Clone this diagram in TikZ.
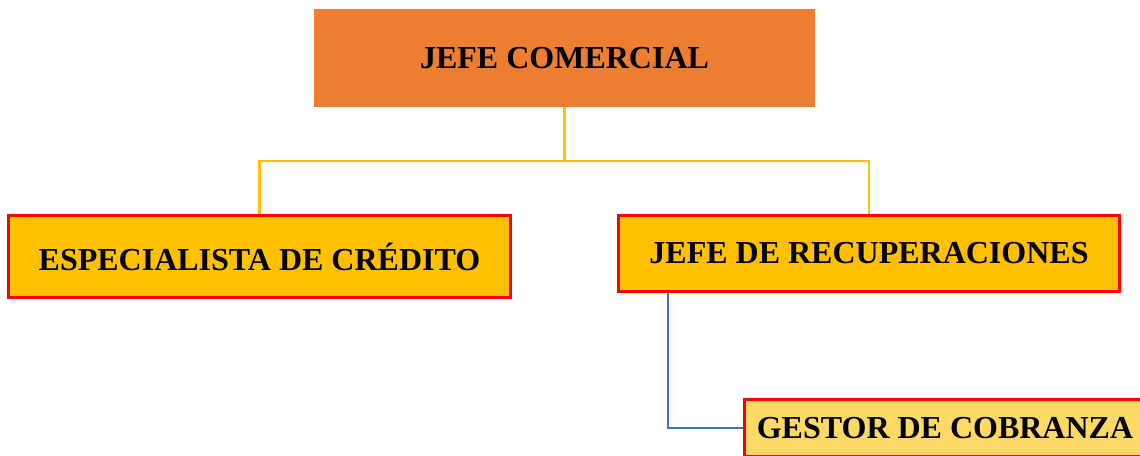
\documentclass[tikz,border=0pt]{standalone}
\usepackage{fontspec}
\setmainfont{Liberation Serif}
\definecolor{orgfill}{HTML}{ED7D31}
\definecolor{yelfill}{HTML}{FFC000}
\definecolor{lightfill}{HTML}{FFD966}
\definecolor{bordred}{HTML}{FF0000}
\definecolor{linkblue}{HTML}{4472C4}
\begin{document}
\begin{tikzpicture}[x=1pt,y=-1pt,
  boxtext/.style={font=\fontsize{32}{36}\selectfont\bfseries, text=black, inner sep=0pt},
  topbox/.style={boxtext, fill=orgfill, draw=none},
  redbox/.style={boxtext, draw=bordred, line width=3pt},
  yellink/.style={draw=yelfill, line width=2.5pt},
  bluelink/.style={draw=linkblue, line width=2.5pt}]
\useasboundingbox (0,0) rectangle (1140,455);
\node[topbox, minimum width=501pt, minimum height=98pt] (jefe) at (564.5,58) {JEFE COMERCIAL};
\node[redbox, fill=yelfill, minimum width=502pt, minimum height=82pt] (esp) at (259.5,256.5) {ESPECIALISTA DE CRÉDITO};
\node[redbox, fill=yelfill, minimum width=501pt, minimum height=76pt] (rec) at (869,253.5) {JEFE DE RECUPERACIONES};
\node[redbox, fill=lightfill, minimum width=401pt, minimum height=57pt] (ges) at (945,428) {GESTOR DE COBRANZA};
\coordinate (mid) at (564.5,161);
\draw[yellink] (jefe.south) -- (mid);
\draw[yellink] (esp.north) |- (mid) -| (rec.north);
\draw[bluelink] (rec.south west) ++(51,0) |- (ges.west);
\end{tikzpicture}
\end{document}
